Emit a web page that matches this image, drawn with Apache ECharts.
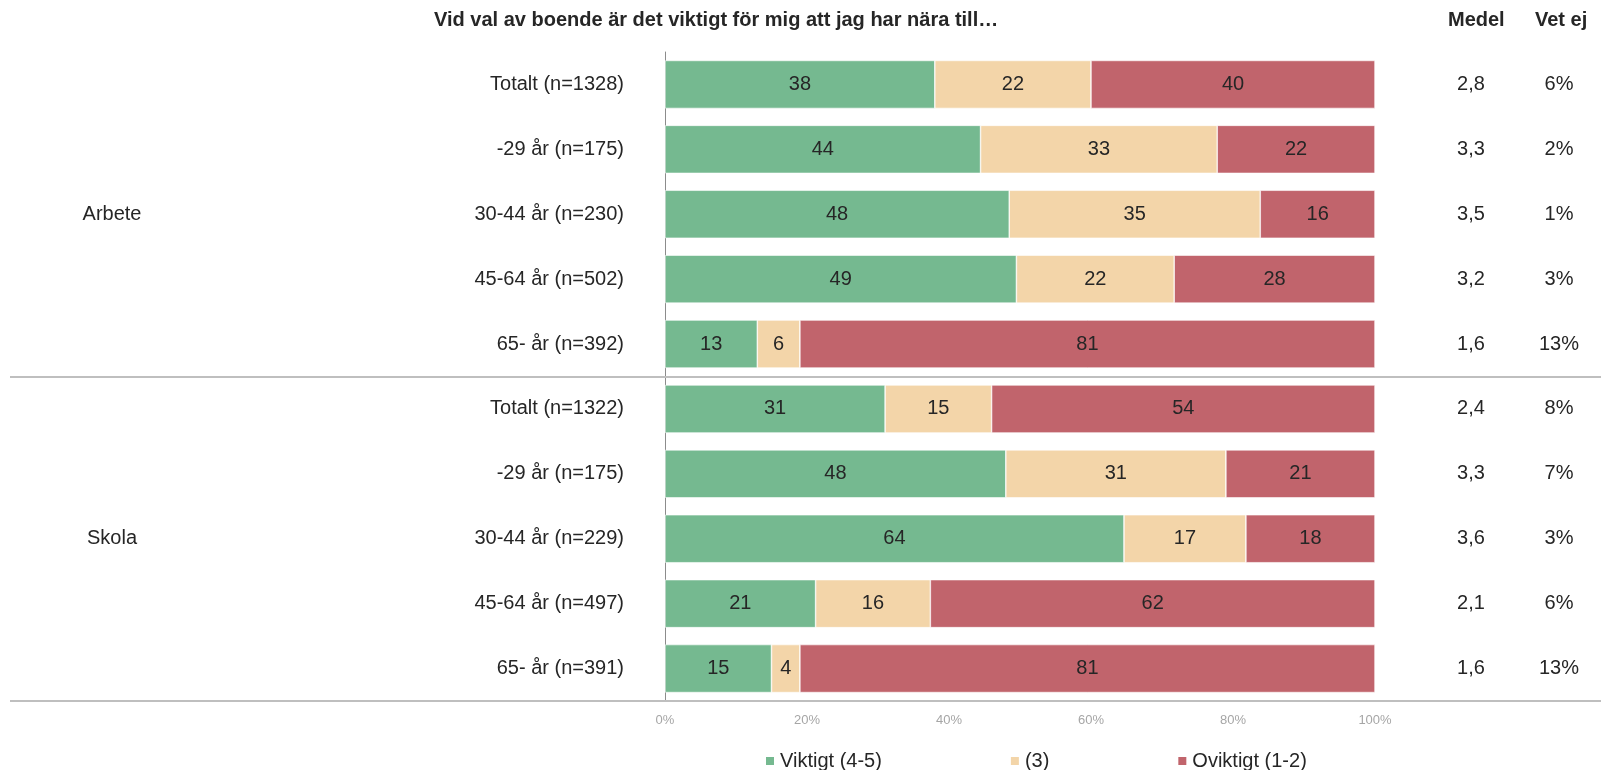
<!DOCTYPE html>
<html>
<head>
<meta charset="utf-8">
<script src="https://cdn.jsdelivr.net/npm/echarts@6/dist/echarts.min.js"></script>
<style>
  html, body { margin: 0; padding: 0; background: #fff; }
  #main { width: 1602px; height: 770px; }
</style>
</head>
<body>
<div id="main"></div>
<script>
var categories = ['Totalt (n=1328)', '-29 år (n=175)', '30-44 år (n=230)', '45-64 år (n=502)', '65- år (n=392)',
                  'Totalt (n=1322)', '-29 år (n=175)', '30-44 år (n=229)', '45-64 år (n=497)', '65- år (n=391)'];
var groups = ['', '', 'Arbete', '', '', '', '', 'Skola', '', ''];
var viktigt = [38, 44, 48, 49, 13, 31, 48, 64, 21, 15];
var neutral = [22, 33, 35, 22, 6, 15, 31, 17, 16, 4];
var oviktigt = [40, 22, 16, 28, 81, 54, 21, 18, 62, 81];
var medel = ['2,8', '3,3', '3,5', '3,2', '1,6', '2,4', '3,3', '3,6', '2,1', '1,6'];
var vetEj = ['6%', '2%', '1%', '3%', '13%', '8%', '7%', '3%', '6%', '13%'];
var seriesNames = ['Viktigt (4-5)', '(3)', 'Oviktigt (1-2)'];
var colors = ['#75B990', '#F3D5A9', '#C1646C'];

var font = 'Liberation Sans, Arial, sans-serif';
var raw = [viktigt, neutral, oviktigt];

// skala varje rad till 100%
function normalized(arr) {
    return arr.map(function (v, i) {
        var sum = viktigt[i] + neutral[i] + oviktigt[i];
        return v / sum * 100;
    });
}

var myChart = echarts.init(document.getElementById('main'));

var headStyle = { fontSize: 20, fontWeight: 'bold', color: '#262626', fontFamily: font };

var option = {
    animation: false,
    textStyle: { fontFamily: font },
    title: [
        { text: 'Vid val av boende är det viktigt för mig att jag har nära till…', left: 429, top: 5, textStyle: headStyle },
        { text: 'Medel', left: 1443, top: 5, textStyle: headStyle },
        { text: 'Vet ej', left: 1530, top: 5, textStyle: headStyle }
    ],
    legend: {
        left: 759,
        top: 746,
        itemWidth: 10,
        itemHeight: 10,
        itemGap: 127,
        icon: 'rect',
        textStyle: { fontSize: 20, color: '#262626', fontFamily: font },
        data: seriesNames
    },
    grid: { left: 665, right: 227, top: 52, bottom: 69 },
    xAxis: {
        type: 'value',
        min: 0,
        max: 100,
        interval: 20,
        axisLine: { show: false },
        axisTick: { show: false },
        splitLine: { show: false },
        axisLabel: { formatter: '{value}%', color: '#a6a6a6', fontSize: 13, margin: 13 }
    },
    yAxis: [
        {
            type: 'category',
            inverse: true,
            data: categories,
            axisLine: { show: true, lineStyle: { color: '#8c8c8c', width: 1 } },
            axisTick: { show: false },
            axisLabel: { color: '#262626', fontSize: 20, margin: 41 }
        },
        {
            type: 'category',
            inverse: true,
            position: 'right',
            data: medel,
            axisLine: { show: false },
            axisTick: { show: false },
            axisLabel: { color: '#262626', fontSize: 20, margin: 96, align: 'center' }
        },
        {
            type: 'category',
            inverse: true,
            position: 'right',
            data: vetEj,
            axisLine: { show: false },
            axisTick: { show: false },
            axisLabel: { color: '#262626', fontSize: 20, margin: 184, align: 'center' }
        },
        {
            type: 'category',
            inverse: true,
            position: 'left',
            data: groups,
            axisLine: { show: false },
            axisTick: { show: false },
            axisLabel: { color: '#262626', fontSize: 20, margin: 553, align: 'center', interval: 0 }
        }
    ],
    series: seriesNames.map(function (name, k) {
        return {
            name: name,
            type: 'bar',
            stack: 'total',
            barWidth: 48,
            itemStyle: { color: colors[k], borderColor: '#fff', borderWidth: 0.6 },
            label: {
                show: true,
                position: 'inside',
                color: '#262626',
                fontSize: 20,
                fontFamily: font,
                formatter: function (p) { return raw[k][p.dataIndex]; }
            },
            data: normalized(raw[k])
        };
    })
};

myChart.setOption(option);

// avgränsningslinjer mellan grupperna
var y0 = myChart.convertToPixel({ yAxisIndex: 0 }, categories[4]);
var y1 = myChart.convertToPixel({ yAxisIndex: 0 }, categories[5]);
var yLast = myChart.convertToPixel({ yAxisIndex: 0 }, categories[9]);
var band = y1 - y0;
function sepLine(y) {
    return {
        type: 'line',
        shape: { x1: 10, y1: y, x2: 1601, y2: y },
        style: { stroke: '#bfbfbf', lineWidth: 2 },
        z: 10
    };
}
myChart.setOption({
    graphic: [sepLine(Math.round((y0 + y1) / 2)), sepLine(Math.round(yLast + band / 2))]
});
</script>
</body>
</html>
